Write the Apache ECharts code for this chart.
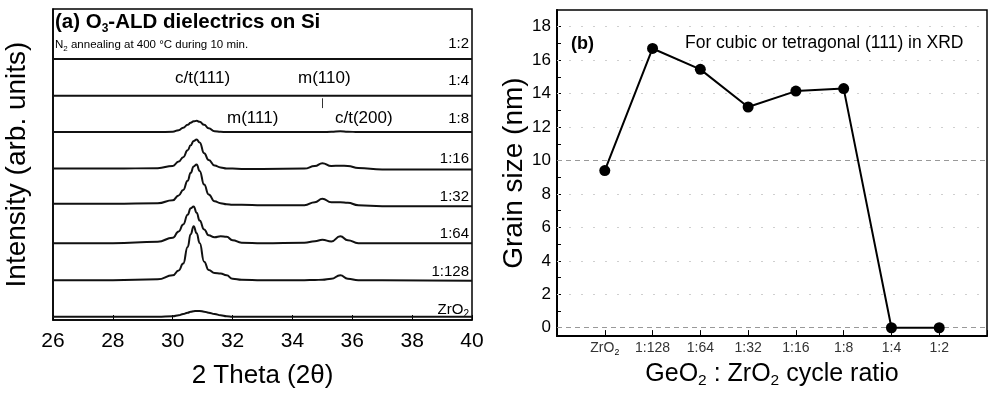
<!DOCTYPE html>
<html>
<head>
<meta charset="utf-8">
<script src="https://cdn.jsdelivr.net/npm/echarts@6/dist/echarts.min.js"></script>
<style>
  html, body { margin: 0; padding: 0; background: #fff; }
  #chart { width: 990px; height: 394px; }
</style>
</head>
<body>
<div id="chart"></div>
<script>
// (a) XRD patterns, sampled along 2 theta; heights are read above each curve's own baseline
const theta = [26, 28, 29.5, 30.0, 30.2, 30.35, 30.5, 30.6, 30.7, 30.8, 30.9, 31.05, 31.2, 31.4,
  31.6, 31.8, 32.0, 32.3, 33, 34.4, 34.75, 35.0, 35.3, 35.6, 35.85, 36.2, 37, 40];
const xrdNames = ['1:2', '1:4', '1:8', '1:16', '1:32', '1:64', '1:128', 'ZrO2'];
const xrdOffsets = [266, 228.7, 191.5, 154, 117, 78.3, 40.5, 3.3];
const r1_2 = [0,0,0,0,0,0,0,0,0,0,0,0,0,0,0,0,0,0,0,0,0,0,0,0,0,0,0,0];
const r1_4 = [0,0,0,0,0,0,0,0,0,0,0,0,0,0,0,0,0,0,0,0,0,0,0,0,0,0,0,0];
const r1_8 = [0,0,0,0.5,2,4.5,7.5,9.5,11,11.5,10.5,7.5,4,1,0.3,0,0,0,0,0,0,0,0.3,1,0.5,0,0,0];
const r1_16 = [0.3,0.3,0.8,3,7.5,12,19,24,28.5,30,27,16,9,3.5,1.5,0.5,0.3,0,0,0.3,3,5.8,3,3.2,3,1,-0.5,-0.5];
const r1_32 = [1.5,1.5,2,5,10,15.5,25,33,39.5,41.5,35,21,11,4,2,1,0.5,0.5,0,0,3,6.5,3,3,2.5,0,-1,-1];
const r1_64 = [0,0,1.5,5.5,12,19,29,35.5,37.5,31,23,14,8,6,7,6.5,3,0.5,0,0.5,2,3.4,1.8,7,3,0,0,0];
const r1_128 = [0,0,1,5,10,17,34,47,55,48,38,19,10.5,7.5,7,5,1.5,0.5,0,0,0.3,0.5,1.5,5,1.5,0,0,-0.5];
const rZrO2 = [0,0,0,0.5,1.5,2.8,4.2,5,5.7,6,5.9,5.2,4.2,2.8,1.5,0.5,0,0,0,0,0,0,0,0,0,0,0,0];
const xrdCurves = [r1_2, r1_4, r1_8, r1_16, r1_32, r1_64, r1_128, rZrO2];
const thetaTicks = [26, 28, 30, 32, 34, 36, 38, 40];

// (b) grain size
const ratios = ['ZrO2', '1:128', '1:64', '1:32', '1:16', '1:8', '1:4', '1:2'];
const grainSize = [9.4, 16.7, 15.45, 13.2, 14.15, 14.3, 0, 0];
const sizeTicks = [0, 2, 4, 6, 8, 10, 12, 14, 16, 18];

const sub = (s) => s.replace(/(O)(\d)/g, '$1{s|$2}');
const richSub = (size) => ({ s: { fontSize: size * 0.62, verticalAlign: 'bottom', padding: [0, 0, -2, 0], color: '#000' } });

const xrdSeries = xrdCurves.map((rel, k) => ({
  name: xrdNames[k],
  type: 'line',
  xAxisIndex: 0,
  yAxisIndex: 0,
  data: theta.map((t, i) => [t, xrdOffsets[k] + rel[i]]),
  smooth: 0.5,
  smoothMonotone: 'x',
  symbol: 'none',
  silent: true,
  lineStyle: { color: '#111', width: 2 }
}));
// little marker under m(110)
xrdSeries[2].markLine = {
  silent: true, symbol: 'none', label: { show: false },
  lineStyle: { color: '#333', width: 1, type: 'solid' },
  data: [[{ coord: [35.0, 216] }, { coord: [35.0, 226] }]]
};

const gridDotted = [2, 4, 6, 8, 12, 14, 16, 18];
const gridDashed = [0, 10];

const option = {
  backgroundColor: '#fff',
  animation: false,
  textStyle: { fontFamily: 'Liberation Sans, Arial, sans-serif', color: '#000' },
  grid: [
    { left: 53, top: 9, width: 419, height: 317, show: true, borderColor: '#000', borderWidth: 1.5 },
    { left: 557, top: 10, right: 3, bottom: 52, show: true, borderColor: '#000', borderWidth: 1.5 }
  ],
  xAxis: [
    {
      type: 'value', gridIndex: 0, min: 26, max: 40, interval: 2,
      axisLine: { onZero: false, lineStyle: { color: '#000', width: 1.5 } },
      axisTick: { inside: true, length: 5, lineStyle: { color: '#000' } },
      axisLabel: { fontSize: 21, color: '#000', margin: 11,
        formatter: v => thetaTicks.includes(v) ? String(v) : '' },
      splitLine: { show: false },
      name: '2 Theta (2θ)', nameLocation: 'middle', nameGap: 43,
      nameTextStyle: { fontSize: 26, color: '#000' }
    },
    {
      type: 'value', gridIndex: 1, min: -1, max: 8, interval: 1,
      axisLine: { onZero: false, lineStyle: { color: '#000', width: 2 } },
      axisTick: { inside: true, length: 6, lineStyle: { color: '#000' } },
      axisLabel: { fontSize: 14, color: '#333', margin: 5,
        formatter: v => ratios[v] ? sub(ratios[v]) : '', rich: richSub(14) },
      splitLine: { show: false },
      name: 'GeO{s|2} : ZrO{s|2} cycle ratio', nameLocation: 'middle', nameGap: 16,
      nameTextStyle: { fontSize: 25, color: '#000', rich: richSub(25) }
    }
  ],
  yAxis: [
    {
      type: 'value', gridIndex: 0, min: 0, max: 317,
      axisLine: { show: true, onZero: false, lineStyle: { color: '#000', width: 1.5 } },
      axisTick: { show: false }, axisLabel: { show: false }, splitLine: { show: false },
      name: 'Intensity (arb. units)', nameLocation: 'middle', nameGap: 22,
      nameTextStyle: { fontSize: 28, color: '#000' }
    },
    {
      type: 'value', gridIndex: 1, min: -0.5, max: 19,
      axisLine: { show: true, onZero: false, lineStyle: { color: '#000', width: 2 } },
      axisTick: { inside: true, length: 4, lineStyle: { color: '#000' },
        customValues: [0,1,2,3,4,5,6,7,8,9,10,11,12,13,14,15,16,17,18] },
      axisLabel: { fontSize: 17, color: '#000', margin: 6, customValues: sizeTicks },
      splitLine: { show: false },
      name: 'Grain size (nm)', nameLocation: 'middle', nameGap: 17,
      nameTextStyle: { fontSize: 28, color: '#000' }
    }
  ],
  series: xrdSeries.concat([
    {
      // reference lines of panel (b), drawn beneath the data
      name: 'guides', type: 'line', xAxisIndex: 1, yAxisIndex: 1, data: [], z: 1,
      markLine: {
        silent: true, symbol: 'none', label: { show: false },
        data: gridDotted.map(v => ({ yAxis: v, lineStyle: { color: '#cfcfcf', width: 1, type: [2, 10] } }))
          .concat(gridDashed.map(v => ({ yAxis: v, lineStyle: { color: '#999', width: 1, type: [5, 4] } })))
      }
    },
    {
      name: 'Grain size', type: 'line', xAxisIndex: 1, yAxisIndex: 1,
      data: grainSize.map((g, i) => [i, g]),
      symbol: 'circle', symbolSize: 11,
      itemStyle: { color: '#000' },
      lineStyle: { color: '#000', width: 2 },
      z: 5
    }
  ]),
  graphic: [
    { type: 'text', x: 55, y: 22, style: { text: '{b|(a) O}{bs|3}{b|-ALD dielectrics on Si}',
      textVerticalAlign: 'middle',
      rich: { b: { font: 'bold 20.5px Liberation Sans, Arial', color: '#000' },
        bs: { font: 'bold 12px Liberation Sans, Arial', color: '#000', verticalAlign: 'bottom', padding: [0, 0, -2, 0] } } } },
    { type: 'text', x: 55, y: 45, style: { text: 'N{s|2} annealing at 400 °C during 10 min.',
      textVerticalAlign: 'middle', font: '11.5px Liberation Sans, Arial', fill: '#000',
      rich: { s: { fontSize: 8, verticalAlign: 'bottom', padding: [0, 0, -2, 0] } } } },
    { type: 'text', x: 175, y: 78, style: { text: 'c/t(111)', font: '17px Liberation Sans, Arial', fill: '#000', textVerticalAlign: 'middle' } },
    { type: 'text', x: 298, y: 78, style: { text: 'm(110)', font: '17px Liberation Sans, Arial', fill: '#000', textVerticalAlign: 'middle' } },
    { type: 'text', x: 227, y: 118, style: { text: 'm(111)', font: '17px Liberation Sans, Arial', fill: '#000', textVerticalAlign: 'middle' } },
    { type: 'text', x: 335, y: 118, style: { text: 'c/t(200)', font: '17px Liberation Sans, Arial', fill: '#000', textVerticalAlign: 'middle' } }
  ].concat([44, 81, 118.5, 159, 196.5, 234, 271.5, 309.5].map((y, k) => ({
    type: 'text', x: 469, y: y,
    style: { text: sub(xrdNames[k]), font: '15px Liberation Sans, Arial', fill: '#000',
      textAlign: 'right', textVerticalAlign: 'middle',
      rich: { s: { fontSize: 10, verticalAlign: 'bottom', padding: [0, 0, -2, 0] } } }
  }))).concat([
    { type: 'text', x: 571, y: 44, style: { text: '(b)', font: 'bold 18px Liberation Sans, Arial', fill: '#000', textVerticalAlign: 'middle' } },
    { type: 'text', x: 685, y: 43, style: { text: 'For cubic or tetragonal (111) in XRD', font: '17.5px Liberation Sans, Arial', fill: '#000', textVerticalAlign: 'middle' } }
  ])
};

const chart = echarts.init(document.getElementById('chart'));
chart.setOption(option);
window.addEventListener('resize', () => chart.resize());
</script>
</body>
</html>
